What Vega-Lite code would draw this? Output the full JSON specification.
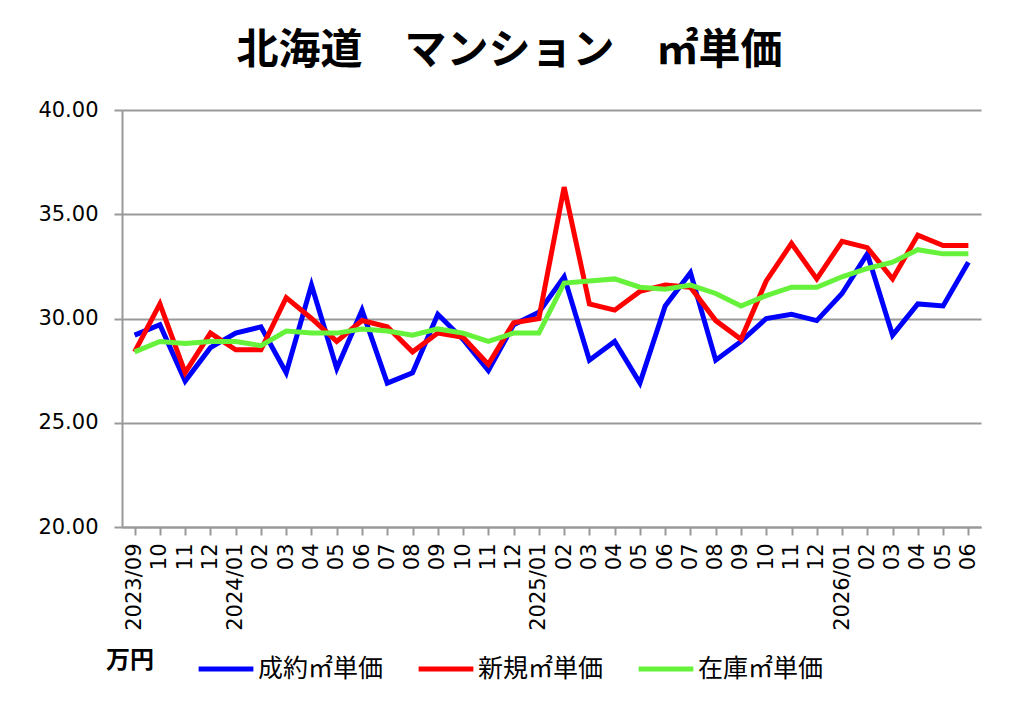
{
  "$schema": "https://vega.github.io/schema/vega-lite/v6.json",
  "width": 859,
  "height": 417,
  "padding": {"left": 37, "top": 30, "right": 44, "bottom": 20},
  "background": "white",
  "title": {
    "text": "北海道　マンション　㎡単価",
    "font": "Noto Sans CJK JP",
    "fontSize": 42,
    "fontWeight": "bold",
    "color": "black",
    "frame": "bounds",
    "offset": 26
  },
  "config": {
    "view": {"stroke": null},
    "axis": {
      "labelFont": "DejaVu Sans",
      "labelFontSize": 21,
      "labelColor": "black",
      "domainColor": "#999999",
      "domainWidth": 2,
      "tickColor": "#999999",
      "tickWidth": 2,
      "tickSize": 8,
      "gridColor": "#999999",
      "gridWidth": 2
    }
  },
  "data": {
    "values": [
      {"month": "2023/09", "series": "成約㎡単価", "value": 29.2},
      {"month": "2023/10", "series": "成約㎡単価", "value": 29.7},
      {"month": "2023/11", "series": "成約㎡単価", "value": 27.0},
      {"month": "2023/12", "series": "成約㎡単価", "value": 28.6},
      {"month": "2024/01", "series": "成約㎡単価", "value": 29.3},
      {"month": "2024/02", "series": "成約㎡単価", "value": 29.6},
      {"month": "2024/03", "series": "成約㎡単価", "value": 27.4},
      {"month": "2024/04", "series": "成約㎡単価", "value": 31.6},
      {"month": "2024/05", "series": "成約㎡単価", "value": 27.6},
      {"month": "2024/06", "series": "成約㎡単価", "value": 30.4},
      {"month": "2024/07", "series": "成約㎡単価", "value": 26.9},
      {"month": "2024/08", "series": "成約㎡単価", "value": 27.4},
      {"month": "2024/09", "series": "成約㎡単価", "value": 30.2},
      {"month": "2024/10", "series": "成約㎡単価", "value": 29.0},
      {"month": "2024/11", "series": "成約㎡単価", "value": 27.5},
      {"month": "2024/12", "series": "成約㎡単価", "value": 29.7},
      {"month": "2025/01", "series": "成約㎡単価", "value": 30.3},
      {"month": "2025/02", "series": "成約㎡単価", "value": 32.0},
      {"month": "2025/03", "series": "成約㎡単価", "value": 28.0},
      {"month": "2025/04", "series": "成約㎡単価", "value": 28.9},
      {"month": "2025/05", "series": "成約㎡単価", "value": 26.9},
      {"month": "2025/06", "series": "成約㎡単価", "value": 30.6},
      {"month": "2025/07", "series": "成約㎡単価", "value": 32.2},
      {"month": "2025/08", "series": "成約㎡単価", "value": 28.0},
      {"month": "2025/09", "series": "成約㎡単価", "value": 28.9},
      {"month": "2025/10", "series": "成約㎡単価", "value": 30.0},
      {"month": "2025/11", "series": "成約㎡単価", "value": 30.2},
      {"month": "2025/12", "series": "成約㎡単価", "value": 29.9},
      {"month": "2026/01", "series": "成約㎡単価", "value": 31.2},
      {"month": "2026/02", "series": "成約㎡単価", "value": 33.1},
      {"month": "2026/03", "series": "成約㎡単価", "value": 29.2},
      {"month": "2026/04", "series": "成約㎡単価", "value": 30.7},
      {"month": "2026/05", "series": "成約㎡単価", "value": 30.6},
      {"month": "2026/06", "series": "成約㎡単価", "value": 32.7},
      {"month": "2023/09", "series": "新規㎡単価", "value": 28.4},
      {"month": "2023/10", "series": "新規㎡単価", "value": 30.7},
      {"month": "2023/11", "series": "新規㎡単価", "value": 27.4},
      {"month": "2023/12", "series": "新規㎡単価", "value": 29.3},
      {"month": "2024/01", "series": "新規㎡単価", "value": 28.5},
      {"month": "2024/02", "series": "新規㎡単価", "value": 28.5},
      {"month": "2024/03", "series": "新規㎡単価", "value": 31.0},
      {"month": "2024/04", "series": "新規㎡単価", "value": 30.0},
      {"month": "2024/05", "series": "新規㎡単価", "value": 28.9},
      {"month": "2024/06", "series": "新規㎡単価", "value": 29.9},
      {"month": "2024/07", "series": "新規㎡単価", "value": 29.6},
      {"month": "2024/08", "series": "新規㎡単価", "value": 28.4},
      {"month": "2024/09", "series": "新規㎡単価", "value": 29.3},
      {"month": "2024/10", "series": "新規㎡単価", "value": 29.1},
      {"month": "2024/11", "series": "新規㎡単価", "value": 27.8},
      {"month": "2024/12", "series": "新規㎡単価", "value": 29.8},
      {"month": "2025/01", "series": "新規㎡単価", "value": 30.0},
      {"month": "2025/02", "series": "新規㎡単価", "value": 36.3},
      {"month": "2025/03", "series": "新規㎡単価", "value": 30.7},
      {"month": "2025/04", "series": "新規㎡単価", "value": 30.4},
      {"month": "2025/05", "series": "新規㎡単価", "value": 31.3},
      {"month": "2025/06", "series": "新規㎡単価", "value": 31.6},
      {"month": "2025/07", "series": "新規㎡単価", "value": 31.5},
      {"month": "2025/08", "series": "新規㎡単価", "value": 29.9},
      {"month": "2025/09", "series": "新規㎡単価", "value": 29.0},
      {"month": "2025/10", "series": "新規㎡単価", "value": 31.8},
      {"month": "2025/11", "series": "新規㎡単価", "value": 33.6},
      {"month": "2025/12", "series": "新規㎡単価", "value": 31.9},
      {"month": "2026/01", "series": "新規㎡単価", "value": 33.7},
      {"month": "2026/02", "series": "新規㎡単価", "value": 33.4},
      {"month": "2026/03", "series": "新規㎡単価", "value": 31.9},
      {"month": "2026/04", "series": "新規㎡単価", "value": 34.0},
      {"month": "2026/05", "series": "新規㎡単価", "value": 33.5},
      {"month": "2026/06", "series": "新規㎡単価", "value": 33.5},
      {"month": "2023/09", "series": "在庫㎡単価", "value": 28.4},
      {"month": "2023/10", "series": "在庫㎡単価", "value": 28.9},
      {"month": "2023/11", "series": "在庫㎡単価", "value": 28.8},
      {"month": "2023/12", "series": "在庫㎡単価", "value": 28.9},
      {"month": "2024/01", "series": "在庫㎡単価", "value": 28.9},
      {"month": "2024/02", "series": "在庫㎡単価", "value": 28.7},
      {"month": "2024/03", "series": "在庫㎡単価", "value": 29.4},
      {"month": "2024/04", "series": "在庫㎡単価", "value": 29.3},
      {"month": "2024/05", "series": "在庫㎡単価", "value": 29.3},
      {"month": "2024/06", "series": "在庫㎡単価", "value": 29.5},
      {"month": "2024/07", "series": "在庫㎡単価", "value": 29.4},
      {"month": "2024/08", "series": "在庫㎡単価", "value": 29.2},
      {"month": "2024/09", "series": "在庫㎡単価", "value": 29.5},
      {"month": "2024/10", "series": "在庫㎡単価", "value": 29.3},
      {"month": "2024/11", "series": "在庫㎡単価", "value": 28.9},
      {"month": "2024/12", "series": "在庫㎡単価", "value": 29.3},
      {"month": "2025/01", "series": "在庫㎡単価", "value": 29.3},
      {"month": "2025/02", "series": "在庫㎡単価", "value": 31.7},
      {"month": "2025/03", "series": "在庫㎡単価", "value": 31.8},
      {"month": "2025/04", "series": "在庫㎡単価", "value": 31.9},
      {"month": "2025/05", "series": "在庫㎡単価", "value": 31.5},
      {"month": "2025/06", "series": "在庫㎡単価", "value": 31.4},
      {"month": "2025/07", "series": "在庫㎡単価", "value": 31.6},
      {"month": "2025/08", "series": "在庫㎡単価", "value": 31.2},
      {"month": "2025/09", "series": "在庫㎡単価", "value": 30.6},
      {"month": "2025/10", "series": "在庫㎡単価", "value": 31.1},
      {"month": "2025/11", "series": "在庫㎡単価", "value": 31.5},
      {"month": "2025/12", "series": "在庫㎡単価", "value": 31.5},
      {"month": "2026/01", "series": "在庫㎡単価", "value": 32.0},
      {"month": "2026/02", "series": "在庫㎡単価", "value": 32.4},
      {"month": "2026/03", "series": "在庫㎡単価", "value": 32.7},
      {"month": "2026/04", "series": "在庫㎡単価", "value": 33.3},
      {"month": "2026/05", "series": "在庫㎡単価", "value": 33.1},
      {"month": "2026/06", "series": "在庫㎡単価", "value": 33.1}
    ]
  },
  "mark": {"type": "line", "strokeWidth": 5},
  "encoding": {
    "x": {
      "field": "month",
      "type": "ordinal",
      "title": null,
      "scale": {"padding": 0.5},
      "axis": {
        "labelAngle": -90,
        "labelPadding": 8,
        "labelExpr": "datum.value == '2023/09' || slice(datum.value, 5) == '01' ? datum.value : slice(datum.value, 5)"
      }
    },
    "y": {
      "field": "value",
      "type": "quantitative",
      "title": null,
      "scale": {"domain": [20, 40], "nice": false, "zero": false},
      "axis": {
        "values": [20, 25, 30, 35, 40],
        "format": ".2f",
        "labelPadding": 16,
        "grid": true
      }
    },
    "color": {
      "field": "series",
      "type": "nominal",
      "scale": {
        "domain": ["成約㎡単価", "新規㎡単価", "在庫㎡単価"],
        "range": ["#0000ff", "#ff0000", "#66f23a"]
      },
      "legend": {
        "title": "万円",
        "orient": "none",
        "legendX": -16,
        "legendY": 529,
        "direction": "horizontal",
        "titleOrient": "left",
        "titleFont": "Noto Sans CJK JP",
        "titleFontSize": 24,
        "titleFontWeight": "bold",
        "titleColor": "black",
        "titlePadding": 42,
        "labelFont": "Noto Sans CJK JP",
        "labelFontSize": 25,
        "labelColor": "black",
        "labelLimit": 300,
        "labelOffset": 2,
        "symbolType": "stroke",
        "symbolSize": 3000,
        "symbolStrokeWidth": 5,
        "columnPadding": 24
      }
    }
  }
}
